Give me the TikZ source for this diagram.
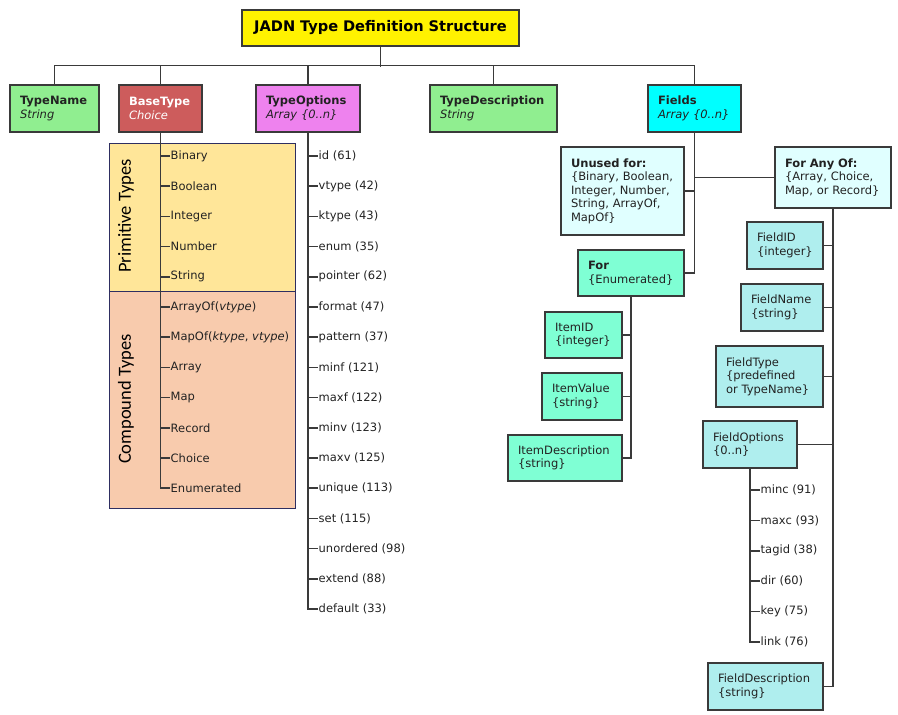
\documentclass[tikz,border=0pt]{standalone}
\usepackage{fontspec}
\setmainfont{DejaVu Sans}
\newfontfamily\calib{Carlito}
\definecolor{linec}{HTML}{3A3A3A}
\definecolor{txtc}{HTML}{222222}
\definecolor{ltgreen}{HTML}{90EE90}
\definecolor{indred}{HTML}{CD5C5C}
\definecolor{violetc}{HTML}{EE82EE}
\definecolor{cyanc}{HTML}{00FFFF}
\definecolor{ltcyan}{HTML}{E0FFFF}
\definecolor{aquam}{HTML}{7FFFD4}
\definecolor{paleturq}{HTML}{AFEEEE}
\definecolor{primc}{HTML}{FFE699}
\definecolor{compc}{HTML}{F8CBAD}
\begin{document}
\begin{tikzpicture}[x=1pt,y=-1pt,
  box/.style={draw=linec, line width=1.3pt, align=left, inner xsep=10pt, inner ysep=0pt,
    text=txtc, font=\fontsize{11.5}{13.5}\selectfont},
  band/.style={draw=linec!80!blue, line width=0.9pt, inner sep=0pt},
  item/.style={anchor=west, inner xsep=0.5pt, inner ysep=1pt, text=txtc,
    font=\fontsize{11.5}{13.5}\selectfont},
  conn/.style={draw=linec, line width=1.5pt},
  vlabel/.style={rotate=90, text=black, font=\calib\fontsize{18.5}{20}\selectfont}]
\useasboundingbox (0,0) rectangle (898,715);

% bands
\node[band, fill=primc, minimum width=186pt, minimum height=148pt] (prim) at (202,217) {};
\node[band, fill=compc, minimum width=186pt, minimum height=217pt] (comp) at (202,399.5) {};
\node[vlabel] (primlbl) at (126,216) {Primitive Types};
\node[vlabel] (complbl) at (126,399) {Compound Types};

% title
\node[box, fill=yellow, minimum height=36pt, text width=257pt, align=center,
  font=\bfseries\fontsize{14.6}{16}\selectfont, text=black] (title) at (380.5,28) {JADN Type Definition Structure};

% top level
\node[box, fill=ltgreen, minimum height=47pt, text width=69pt] (typename) at (54.5,108.5)
  {\textbf{TypeName}\\\textit{String}};
\node[box, fill=indred, minimum height=47pt, text width=63pt, text=white] (basetype) at (160.5,108.5)
  {\textbf{BaseType}\\\textit{Choice}};
\node[box, fill=violetc, minimum height=47pt, text width=84pt] (typeopts) at (308,108.5)
  {\textbf{TypeOptions}\\\textit{Array \{0..n\}}};
\node[box, fill=ltgreen, minimum height=47pt, text width=107pt] (typedesc) at (493.5,108.5)
  {\textbf{TypeDescription}\\\textit{String}};
\node[box, fill=cyanc, minimum height=47pt, text width=73pt] (fields) at (694.5,108.5)
  {\textbf{Fields}\\\textit{Array \{0..n\}}};

\draw[conn] (title.south) -- ++(0,20);
\draw[conn] (typename.north) -- ++(0,-19) -| (fields.north);
\draw[conn] (basetype.north) -- ++(0,-19);
\draw[conn] (typeopts.north) -- ++(0,-19);
\draw[conn] (typedesc.north) -- ++(0,-19);

% base type items
\foreach \t [count=\i from 0] in {Binary, Boolean, Integer, Number, String,
  {ArrayOf(\textit{vtype})}, {MapOf(\textit{ktype}, \textit{vtype})}, Array, Map, Record, Choice, Enumerated}{
  \node[item] (bt\i) at (170,{156+30.2*\i}) {\t};
  \draw[conn] (basetype.south |- bt\i.west) -- (bt\i.west);
}
\draw[conn] (basetype.south) |- (bt11.west);

% type option items
\foreach \t [count=\i from 0] in {id (61), vtype (42), ktype (43), enum (35), pointer (62),
  format (47), pattern (37), minf (121), maxf (122), minv (123), maxv (125), unique (113),
  set (115), unordered (98), extend (88), default (33)}{
  \node[item] (to\i) at (318,{156+30.2*\i}) {\t};
  \draw[conn] (typeopts.south |- to\i.west) -- (to\i.west);
}
\draw[conn] (typeopts.south) |- (to15.west);

% fields subtree
\node[box, fill=ltcyan, minimum height=88pt, text width=103pt] (unused) at (622.5,191)
  {\textbf{Unused for:}\\\{Binary, Boolean,\\Integer, Number,\\String, ArrayOf,\\MapOf\}};
\node[box, fill=ltcyan, minimum height=61pt, text width=96pt] (anyof) at (833,177.5)
  {\textbf{For Any Of:}\\\{Array, Choice,\\Map, or Record\}};
\node[box, fill=aquam, minimum height=46pt, text width=86pt] (forenum) at (631,273)
  {\textbf{For}\\\{Enumerated\}};

\draw[conn] (fields.south) |- (forenum.east);
\draw[conn] (unused.east) -- (fields.south |- unused.east);
\draw[conn] (fields.south |- anyof.west) -- (anyof.west);

% enumerated items
\node[box, fill=aquam, minimum height=46pt, text width=57pt] (itemid) at (583.5,335)
  {ItemID\\\{integer\}};
\node[box, fill=aquam, minimum height=47pt, text width=60pt] (itemval) at (582,396.5)
  {ItemValue\\\{string\}};
\node[box, fill=aquam, minimum height=46pt, text width=94pt] (itemdesc) at (565,458)
  {ItemDescription\\\{string\}};
\draw[conn] (forenum.south) |- (itemdesc.east);
\draw[conn] (itemid.east) -- (forenum.south |- itemid.east);
\draw[conn] (itemval.east) -- (forenum.south |- itemval.east);

% any-of fields
\node[box, fill=paleturq, minimum height=47pt, text width=56pt] (fieldid) at (785,245.5)
  {FieldID\\\{integer\}};
\node[box, fill=paleturq, minimum height=47pt, text width=62pt] (fieldname) at (782,307.5)
  {FieldName\\\{string\}};
\node[box, fill=paleturq, minimum height=61pt, text width=87pt] (fieldtype) at (769.5,376.5)
  {FieldType\\\{predefined\\or TypeName\}};
\node[box, fill=paleturq, minimum height=47pt, text width=74pt] (fieldopts) at (750,444.5)
  {FieldOptions\\\{0..n\}};
\node[box, fill=paleturq, minimum height=47pt, text width=95pt] (fielddesc) at (765.5,686.5)
  {FieldDescription\\\{string\}};
\draw[conn] (anyof.south) |- (fielddesc.east);
\draw[conn] (fieldid.east) -- (anyof.south |- fieldid.east);
\draw[conn] (fieldname.east) -- (anyof.south |- fieldname.east);
\draw[conn] (fieldtype.east) -- (anyof.south |- fieldtype.east);
\draw[conn] (fieldopts.east) -- (anyof.south |- fieldopts.east);

% field option items
\foreach \t [count=\i from 0] in {minc (91), maxc (93), tagid (38), dir (60), key (75), link (76)}{
  \node[item] (fo\i) at (760,{490+30.4*\i}) {\t};
  \draw[conn] (fieldopts.south |- fo\i.west) -- (fo\i.west);
}
\draw[conn] (fieldopts.south) |- (fo5.west);
\end{tikzpicture}
\end{document}
